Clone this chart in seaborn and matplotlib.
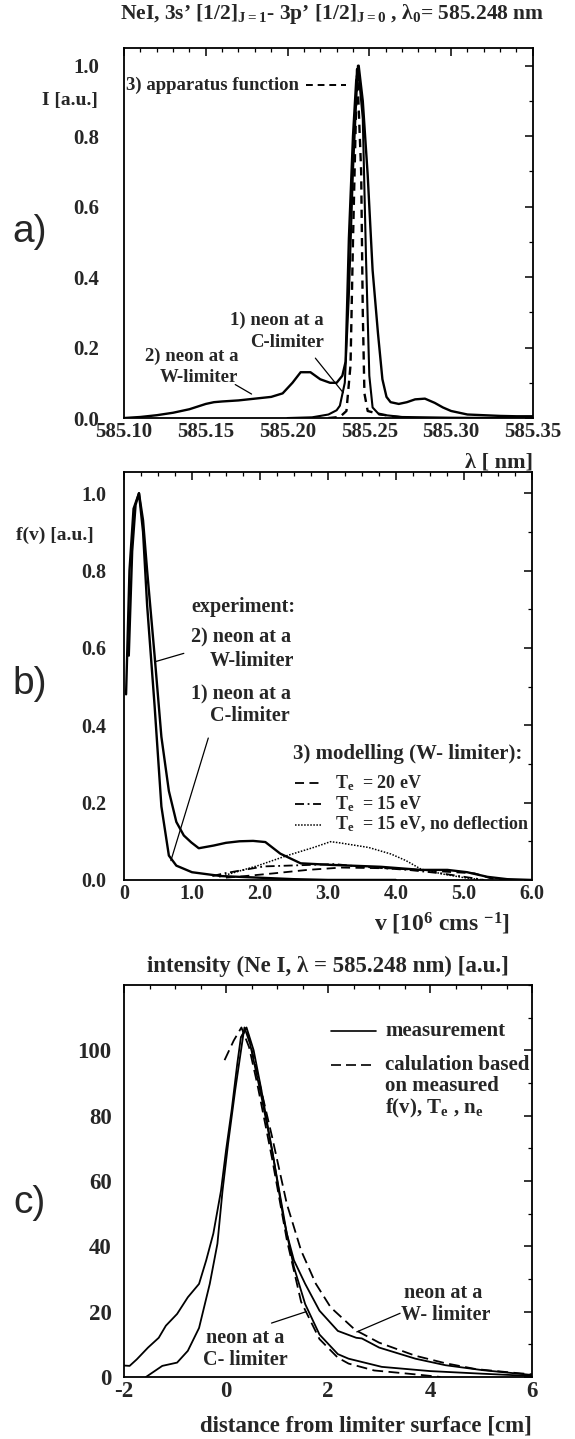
import matplotlib
matplotlib.use("Agg")
import matplotlib.pyplot as plt
import seaborn as sns
from matplotlib.ticker import MultipleLocator, FixedLocator

# ---- panel a: line profiles, NeI 585.248 nm ----
wl_w = [585.100, 585.110, 585.120, 585.130, 585.140, 585.150, 585.155, 585.160, 585.170,
        585.180, 585.190, 585.197, 585.203, 585.208, 585.214, 585.220, 585.226, 585.230,
        585.2335, 585.2355, 585.2375, 585.240, 585.242, 585.2435, 585.246, 585.249, 585.252,
        585.2553, 585.258, 585.2605, 585.263, 585.268, 585.273, 585.278, 585.284, 585.290,
        585.295, 585.300, 585.310, 585.320, 585.330, 585.340, 585.350]
int_w = [0.000, 0.003, 0.008, 0.015, 0.025, 0.040, 0.045, 0.047, 0.050,
         0.055, 0.060, 0.070, 0.100, 0.130, 0.130, 0.110, 0.100, 0.100,
         0.120, 0.160, 0.510, 0.800, 0.960, 1.000, 0.900, 0.690, 0.420,
         0.240, 0.110, 0.060, 0.045, 0.040, 0.045, 0.053, 0.055, 0.043,
         0.030, 0.020, 0.010, 0.008, 0.006, 0.005, 0.005]

wl_c = [585.200, 585.215, 585.225, 585.230, 585.232, 585.235, 585.2375, 585.240, 585.243,
        585.246, 585.248, 585.250, 585.252, 585.256, 585.270, 585.300, 585.350]
int_c = [0.000, 0.002, 0.010, 0.022, 0.035, 0.100, 0.350, 0.700, 1.000,
         0.850, 0.450, 0.120, 0.030, 0.010, 0.003, 0.001, 0.000]

wl_app = [585.225, 585.232, 585.236, 585.2385, 585.240, 585.2425, 585.245, 585.246, 585.247,
          585.249, 585.253, 585.258, 585.265, 585.275]
int_app = [0.000, 0.003, 0.020, 0.150, 0.500, 1.000, 0.700, 0.300, 0.070,
           0.020, 0.015, 0.010, 0.004, 0.000]

# ---- panel b: velocity distributions ----
v_w = [0.03, 0.08, 0.14, 0.22, 0.28, 0.34, 0.45, 0.55, 0.66, 0.77, 0.88, 0.99, 1.10, 1.32,
       1.50, 1.70, 1.90, 2.08, 2.30, 2.60, 3.04, 3.78, 4.37, 4.76, 5.05, 5.35, 5.64, 6.00]
f_w = [0.48, 0.80, 0.96, 1.00, 0.93, 0.80, 0.58, 0.37, 0.23, 0.15, 0.115, 0.097, 0.082, 0.089,
       0.096, 0.100, 0.101, 0.098, 0.068, 0.043, 0.039, 0.034, 0.026, 0.026, 0.020, 0.008, 0.002, 0.0]

v_c = [0.07, 0.12, 0.17, 0.22, 0.28, 0.34, 0.45, 0.55, 0.66, 0.77, 1.00, 1.43, 1.97, 2.50, 3.00, 4.00]
f_c = [0.58, 0.85, 0.97, 1.00, 0.90, 0.71, 0.45, 0.19, 0.063, 0.037, 0.020, 0.010, 0.006, 0.002, 0.0, 0.0]

v_te20 = [1.50, 1.72, 2.20, 2.70, 3.20, 3.93, 4.67, 5.16, 5.40, 5.60]
f_te20 = [0.006, 0.009, 0.017, 0.026, 0.032, 0.030, 0.022, 0.017, 0.004, 0.0]

v_te15 = [1.30, 1.47, 2.06, 2.75, 3.10, 3.44, 4.18, 4.67, 5.16, 5.30]
f_te15 = [0.010, 0.017, 0.035, 0.039, 0.041, 0.035, 0.026, 0.017, 0.004, 0.0]

v_nodefl = [1.40, 1.54, 1.97, 2.40, 2.79, 3.04, 3.17, 3.60, 3.93, 4.15, 4.37, 4.70, 5.00, 5.30]
f_nodefl = [0.008, 0.015, 0.037, 0.063, 0.084, 0.099, 0.096, 0.084, 0.067, 0.050, 0.028, 0.015, 0.006, 0.0]

# ---- panel c: radial intensity profiles ----
d_cm = [-1.57, -1.25, -0.96, -0.75, -0.53, -0.32, -0.17, -0.07, 0.04, 0.18, 0.33, 0.36,
        0.47, 0.69, 0.90, 1.12, 1.33, 1.55, 1.83, 2.19, 2.40, 3.05, 4.00, 5.02, 6.00]
i_cm = [0.0, 3.4, 4.4, 8.0, 15.0, 28.5, 40.8, 57.0, 71.5, 88.0, 104.0, 107.0,
        102.0, 86.0, 69.5, 49.0, 33.6, 22.3, 13.0, 7.0, 5.6, 3.1, 1.8, 1.0, 0.3]

d_wm = [-2.00, -1.89, -1.75, -1.53, -1.32, -1.18, -0.96, -0.75, -0.53, -0.39, -0.25, -0.10,
        0.00, 0.11, 0.22, 0.29, 0.40, 0.54, 0.69, 0.90, 1.19, 1.33, 1.55, 1.83, 2.19,
        2.55, 2.66, 3.00, 3.71, 4.30, 5.02, 6.00]
i_wm = [3.5, 3.4, 5.4, 9.0, 12.0, 15.7, 19.3, 24.4, 28.5, 35.7, 43.9, 57.0,
        69.5, 81.8, 96.0, 104.0, 107.0, 100.0, 88.0, 69.5, 43.9, 35.7, 28.5, 20.3, 14.1,
        12.0, 11.8, 9.0, 5.6, 3.6, 2.1, 0.6]

d_cc = [-0.03, 0.15, 0.30, 0.45, 0.61, 0.90, 1.19, 1.47, 1.83, 2.19, 2.40, 2.90, 3.71, 4.20]
i_cc = [97.0, 103.0, 107.0, 101.0, 89.8, 67.0, 42.0, 23.0, 11.6, 5.9, 4.1, 2.0, 0.8, 0.0]

d_wc = [0.30, 0.40, 0.61, 0.90, 1.19, 1.47, 1.76, 2.05, 2.53, 3.00, 3.71, 4.30, 4.90, 5.63, 6.00]
i_wc = [104.0, 107.0, 93.0, 73.6, 53.0, 38.7, 28.5, 21.3, 14.4, 10.5, 6.5, 4.2, 2.4, 1.3, 0.8]

sns.set_theme(style="white")
plt.rcParams["font.family"] = ["Liberation Serif", "DejaVu Serif"]
plt.rcParams["font.weight"] = "bold"
plt.rcParams["mathtext.fontset"] = "custom"
plt.rcParams["mathtext.rm"] = "Liberation Serif:bold"
plt.rcParams["mathtext.it"] = "Liberation Serif:italic:bold"
plt.rcParams["mathtext.bf"] = "Liberation Serif:bold"

INK = "black"
LW = 1.7


def style_axes(ax, ypad, size):
    for spine in ax.spines.values():
        spine.set_visible(True)
        spine.set_color(INK)
        spine.set_linewidth(1.3)
    ax.tick_params(which="both", direction="in", top=True, right=True, color=INK)
    ax.tick_params(which="major", length=6, width=1.1, labelsize=size)
    ax.tick_params(which="minor", length=3, width=0.9)
    ax.tick_params(axis="y", pad=ypad)
    ax.tick_params(axis="x", pad=3)
    ax.set_xlabel("")
    ax.set_ylabel("")


def draw(ax, x, y, ls="-", lw=LW):
    sns.lineplot(x=x, y=y, ax=ax, color=INK, linestyle=ls, linewidth=lw,
                 sort=False, estimator=None, legend=False)


fig = plt.figure(figsize=(5.75, 14.39), dpi=100)
fig.patch.set_facecolor("white")

# ---------------- a) ----------------
ax_a = fig.add_axes([0.2157, 0.7095, 0.711, 0.2571])
draw(ax_a, wl_w, int_w)
draw(ax_a, wl_c, int_c, lw=1.5)
draw(ax_a, wl_app, int_app, ls=(0, (3.5, 2.5)))
ax_a.set_xlim(585.10, 585.35)
ax_a.set_ylim(0, 1.05)
ax_a.xaxis.set_major_locator(MultipleLocator(0.05))
ax_a.xaxis.set_minor_locator(MultipleLocator(0.01))
ax_a.yaxis.set_major_locator(MultipleLocator(0.2))
ax_a.yaxis.set_minor_locator(MultipleLocator(0.1))
ax_a.set_xticklabels([f"{t:.2f}" for t in ax_a.get_xticks()])
ax_a.set_yticklabels([f"{t:.1f}" for t in ax_a.get_yticks()])
style_axes(ax_a, 18, 15)
ax_a.set_xlim(585.10, 585.35)
ax_a.set_ylim(0, 1.05)

ax_a.text(0.51, 1.092,
          r"NeI, 3s’ [1/2]$_{\mathregular{J=1}}$- 3p’ [1/2]$_{\mathregular{J=0}}$ , "
          r"λ$_{\mathregular{0}}$= 585.248 nm",
          transform=ax_a.transAxes, ha="center", va="center", fontsize=15.5)
ax_a.text(-0.065, 0.90, "I [a.u.]", transform=ax_a.get_yaxis_transform(), ha="right",
          va="center", fontsize=14)
ax_a.text(1.0, -0.12, "λ [ nm]", transform=ax_a.transAxes, ha="right", va="center",
          fontsize=16)
fig.text(0.052, 0.839, "a)", fontsize=28, family="Liberation Sans", weight="normal",
         ha="center", va="center")
ax_a.text(585.101, 0.945, "3) apparatus function", ha="left", va="center", fontsize=13.5)
ax_a.plot([585.211, 585.236], [0.945, 0.945], color=INK, lw=1.4, ls=(0, (3.5, 2.5)))
ax_a.text(585.222, 0.278, "1) neon at a", ha="right", va="center", fontsize=13.5)
ax_a.text(585.222, 0.214, "C-limiter", ha="right", va="center", fontsize=13.5)
ax_a.plot([585.217, 585.234], [0.17, 0.072], color=INK, lw=0.9)
ax_a.text(585.170, 0.176, "2) neon at a", ha="right", va="center", fontsize=13.5)
ax_a.text(585.170, 0.114, "W-limiter", ha="right", va="center", fontsize=13.5)
ax_a.plot([585.168, 585.178], [0.095, 0.068], color=INK, lw=0.9)

# ---------------- b) ----------------
ax_b = fig.add_axes([0.2157, 0.3885, 0.709, 0.2835])
draw(ax_b, v_w, f_w)
draw(ax_b, v_c, f_c)
draw(ax_b, v_te20, f_te20, ls=(0, (5, 3)), lw=1.3)
draw(ax_b, v_te15, f_te15, ls=(0, (5, 2, 1, 2)), lw=1.3)
draw(ax_b, v_nodefl, f_nodefl, ls=(0, (1, 1)), lw=1.1)
ax_b.set_xlim(0, 6.0)
ax_b.set_ylim(0, 1.055)
ax_b.xaxis.set_major_locator(FixedLocator([0, 1, 2, 3, 4, 5, 6]))
ax_b.xaxis.set_minor_locator(MultipleLocator(0.25))
ax_b.yaxis.set_major_locator(MultipleLocator(0.2))
ax_b.yaxis.set_minor_locator(MultipleLocator(0.1))
ax_b.set_xticklabels(["0", "1.0", "2.0", "3.0", "4.0", "5.0", "6.0"])
ax_b.set_yticklabels([f"{t:.1f}" for t in ax_b.get_yticks()])
style_axes(ax_b, 13, 14.5)
ax_b.set_xlim(0, 6.0)
ax_b.set_ylim(0, 1.055)

ax_b.text(-0.075, 0.89, "f(v) [a.u.]", transform=ax_b.get_yaxis_transform(), ha="right",
          va="center", fontsize=14)
ax_b.text(0.78, -0.108, r"v [10$^{\mathregular{6}}$ cms $^{\mathregular{-1}}$]",
          transform=ax_b.transAxes, ha="center", va="center", fontsize=17)
fig.text(0.052, 0.525, "b)", fontsize=28, family="Liberation Sans", weight="normal",
         ha="center", va="center")
ax_b.text(0.99, 0.706, "experiment:", ha="left", va="center", fontsize=14.5)
ax_b.text(0.99, 0.628, "2) neon at a", ha="left", va="center", fontsize=14.5)
ax_b.text(2.50, 0.567, "W-limiter", ha="right", va="center", fontsize=14.5)
ax_b.plot([0.88, 0.47], [0.586, 0.565], color=INK, lw=0.9)
ax_b.text(0.99, 0.48, "1) neon at a", ha="left", va="center", fontsize=14.5)
ax_b.text(2.44, 0.423, "C-limiter", ha="right", va="center", fontsize=14.5)
ax_b.plot([1.24, 0.69], [0.367, 0.05], color=INK, lw=0.9)
ax_b.text(2.49, 0.326, "3) modelling (W- limiter):", ha="left", va="center", fontsize=15)
ax_b.plot([2.52, 2.90], [0.25, 0.25], color=INK, lw=1.3, ls=(0, (5, 3)))
ax_b.plot([2.52, 2.90], [0.197, 0.197], color=INK, lw=1.3, ls=(0, (5, 2, 1, 2)))
ax_b.plot([2.52, 2.90], [0.143, 0.143], color=INK, lw=1.1, ls=(0, (1, 1)))
ax_b.text(3.10, 0.25, r"T$_{\mathregular{e}}$  = 20 eV", ha="left", va="center", fontsize=13)
ax_b.text(3.10, 0.197, r"T$_{\mathregular{e}}$  = 15 eV", ha="left", va="center", fontsize=13)
ax_b.text(3.10, 0.143, r"T$_{\mathregular{e}}$  = 15 eV, no deflection", ha="left",
          va="center", fontsize=13)

# ---------------- c) ----------------
ax_c = fig.add_axes([0.2157, 0.0431, 0.71, 0.2724])
draw(ax_c, d_cm, i_cm, lw=1.3)
draw(ax_c, d_wm, i_wm, lw=1.3)
draw(ax_c, d_cc, i_cc, ls=(0, (6, 3)), lw=1.3)
draw(ax_c, d_wc, i_wc, ls=(0, (6, 3)), lw=1.3)
ax_c.set_xlim(-2, 6)
ax_c.set_ylim(0, 120)
ax_c.xaxis.set_major_locator(MultipleLocator(2))
ax_c.xaxis.set_minor_locator(MultipleLocator(0.5))
ax_c.yaxis.set_major_locator(FixedLocator([0, 20, 40, 60, 80, 100]))
ax_c.yaxis.set_minor_locator(MultipleLocator(10))
ax_c.set_xticklabels([f"{t:.0f}" for t in ax_c.get_xticks()])
style_axes(ax_c, 9, 16.5)
ax_c.set_xlim(-2, 6)
ax_c.set_ylim(0, 120)

ax_c.text(0.5, 1.048, "intensity (Ne I, λ = 585.248 nm) [a.u.]", transform=ax_c.transAxes,
          ha="center", va="center", fontsize=16.5)
ax_c.text(1.0, -0.125, "distance from limiter surface [cm]", transform=ax_c.transAxes,
          ha="right", va="center", fontsize=16.5)
fig.text(0.052, 0.164, "c)", fontsize=28, family="Liberation Sans", weight="normal",
         ha="center", va="center")
ax_c.plot([2.05, 2.94], [105.8, 105.8], color=INK, lw=1.2)
ax_c.text(3.12, 105.8, "measurement", ha="left", va="center", fontsize=15)
ax_c.plot([2.05, 2.94], [95.6, 95.6], color=INK, lw=1.2, ls=(0, (6, 3)))
ax_c.text(3.12, 95.6, "calulation based", ha="left", va="center", fontsize=15)
ax_c.text(3.12, 89.1, "on measured", ha="left", va="center", fontsize=15)
ax_c.text(3.12, 82.3, r"f(v), T$_{\mathregular{e}}$ , n$_{\mathregular{e}}$", ha="left",
          va="center", fontsize=15)
ax_c.text(4.25, 25.6, "neon at a", ha="center", va="center", fontsize=14.5)
ax_c.text(4.3, 19.0, "W- limiter", ha="center", va="center", fontsize=14.5)
ax_c.plot([3.41, 2.56], [19.5, 13.8], color=INK, lw=0.9)
ax_c.text(0.38, 11.8, "neon at a", ha="center", va="center", fontsize=14.5)
ax_c.text(0.38, 5.2, "C- limiter", ha="center", va="center", fontsize=14.5)
ax_c.plot([0.89, 1.57], [16.5, 20.0], color=INK, lw=0.9)

fig.savefig("out.png", dpi=100, facecolor="white")
